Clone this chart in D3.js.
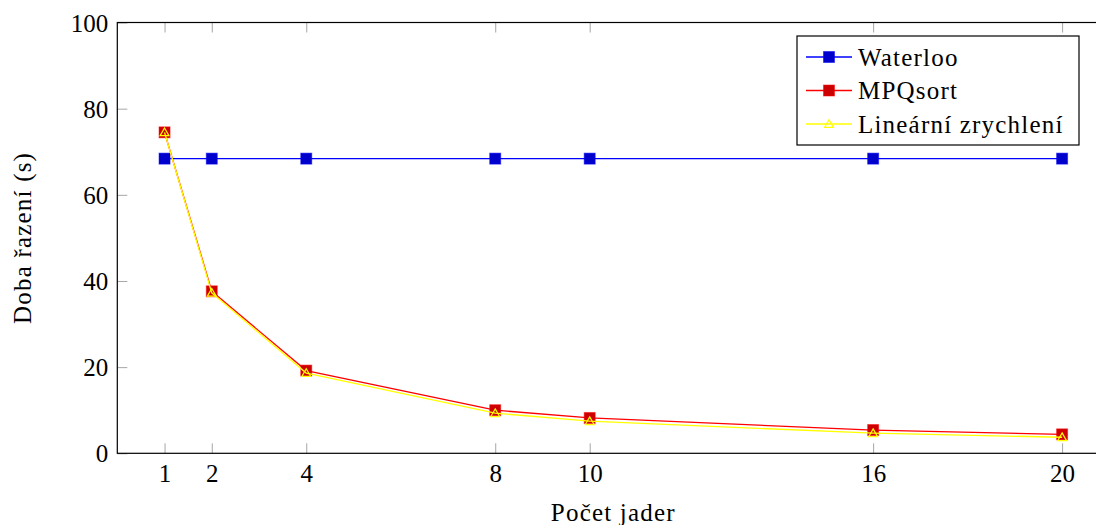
<!DOCTYPE html>
<html>
<head>
<meta charset="utf-8">
<script src="https://cdn.jsdelivr.net/npm/d3@7"></script>
<style>
  html, body { margin: 0; padding: 0; background: #fff; }
  svg { display: block; }
</style>
</head>
<body>
<svg id="chart" width="1096" height="525"></svg>
<script>
// Number of cores on the x axis
const cores = [1, 2, 4, 8, 10, 16, 20];
// Sorting time in seconds for each method
const waterloo = [68.4, 68.4, 68.4, 68.4, 68.4, 68.4, 68.4];
const mpqsort = [74.5, 37.6, 19.2, 10.0, 8.2, 5.4, 4.4];
const linear = [74.5, 37.25, 18.63, 9.31, 7.45, 4.66, 3.73];
// Tick labels
const xTicks = [1, 2, 4, 8, 10, 16, 20];
const yTicks = [0, 20, 40, 60, 80, 100];

const series = [
  { name: "Waterloo", values: waterloo, stroke: "#0000ff", fill: "#0000cc", mark: "square" },
  { name: "MPQsort", values: mpqsort, stroke: "#ff0000", fill: "#cc0000", mark: "square" },
  { name: "Lineární zrychlení", values: linear, stroke: "#ffff00", fill: "none", mark: "triangle" }
];

const serif = "'Times New Roman', 'Liberation Serif', 'DejaVu Serif', serif";
const svg = d3.select("#chart");
const plotLeft = 117.3, plotTop = 22.5, plotBottom = 453.3;
const x = d3.scaleLinear().domain([0, 21]).range([plotLeft, plotLeft + 21 * 47.24]);
const y = d3.scaleLinear().domain([0, 100]).range([plotBottom, plotTop]);
const plotRight = x(21);

const fontSize = 25;
const tickGray = "#a6a6a6";

// Ticks inside the frame on all four sides
const gx = svg.append("g").attr("transform", `translate(0,${plotBottom})`)
  .call(d3.axisBottom(x).tickValues(xTicks).tickSize(-10).tickPadding(11).tickFormat(d3.format("d")));
const gxTop = svg.append("g").attr("transform", `translate(0,${plotTop})`)
  .call(d3.axisTop(x).tickValues(xTicks).tickSize(-10).tickFormat(""));
const gy = svg.append("g").attr("transform", `translate(${plotLeft},0)`)
  .call(d3.axisLeft(y).tickValues(yTicks).tickSize(-10).tickPadding(9).tickFormat(d3.format("d")));
const gyRight = svg.append("g").attr("transform", `translate(${plotRight},0)`)
  .call(d3.axisRight(y).tickValues(yTicks).tickSize(-10).tickFormat(""));

[gx, gxTop, gy, gyRight].forEach(g => {
  g.attr("font-family", serif).attr("font-size", fontSize);
  g.select(".domain").remove();
  g.selectAll(".tick line").attr("stroke", tickGray).attr("stroke-width", 1);
  g.selectAll(".tick text").attr("fill", "#000");
});
gy.selectAll(".tick text").attr("dy", "0.34em");

// Frame
svg.append("rect")
  .attr("x", plotLeft).attr("y", plotTop)
  .attr("width", plotRight - plotLeft).attr("height", plotBottom - plotTop)
  .attr("fill", "none").attr("stroke", "#000").attr("stroke-width", 1.2);

const line = d3.line().x((d, i) => x(cores[i])).y(d => y(d));

function drawMark(g, s, cx, cy) {
  if (s.mark === "square") {
    g.append("rect")
      .attr("x", cx - 5.5).attr("y", cy - 5.5)
      .attr("width", 11).attr("height", 11)
      .attr("fill", s.fill).attr("stroke", s.stroke).attr("stroke-width", 1)
      .attr("stroke-opacity", 0.5);
  } else {
    const sym = d3.symbol().type(d3.symbolTriangle).size(34);
    g.append("path")
      .attr("d", sym())
      .attr("transform", `translate(${cx},${cy + 0.8})`)
      .attr("fill", "none").attr("stroke", s.stroke).attr("stroke-width", 1.2);
  }
}

series.forEach(s => {
  const g = svg.append("g");
  g.append("path")
    .datum(s.values)
    .attr("d", line)
    .attr("fill", "none")
    .attr("stroke", s.stroke)
    .attr("stroke-width", 1.3);
  s.values.forEach((v, i) => drawMark(g, s, x(cores[i]), y(v)));
});

// Legend
const lg = svg.append("g").attr("font-family", serif).attr("font-size", fontSize);
const lx = 797, ly = 36, lw = 282, lh = 109;
lg.append("rect").attr("x", lx).attr("y", ly).attr("width", lw).attr("height", lh)
  .attr("fill", "#fff").attr("stroke", "#000").attr("stroke-width", 1.2);
series.forEach((s, i) => {
  const ry = 57 + i * 33.5;
  lg.append("line").attr("x1", 806).attr("x2", 852).attr("y1", ry).attr("y2", ry)
    .attr("stroke", s.stroke).attr("stroke-width", 1.3);
  drawMark(lg, s, 829, ry);
  lg.append("text").attr("x", 858).attr("y", ry + 8.5)
    .attr("letter-spacing", 1.2)
    .text(s.name);
});

// Axis titles
svg.append("text")
  .attr("x", (plotLeft + plotRight) / 2).attr("y", 521)
  .attr("text-anchor", "middle")
  .attr("font-family", serif).attr("font-size", fontSize)
  .attr("letter-spacing", 1.2)
  .text("Počet jader");

svg.append("text")
  .attr("transform", `translate(31,${(plotTop + plotBottom) / 2}) rotate(-90)`)
  .attr("text-anchor", "middle")
  .attr("font-family", serif).attr("font-size", fontSize)
  .attr("letter-spacing", 1.2)
  .text("Doba řazení (s)");
</script>
</body>
</html>
